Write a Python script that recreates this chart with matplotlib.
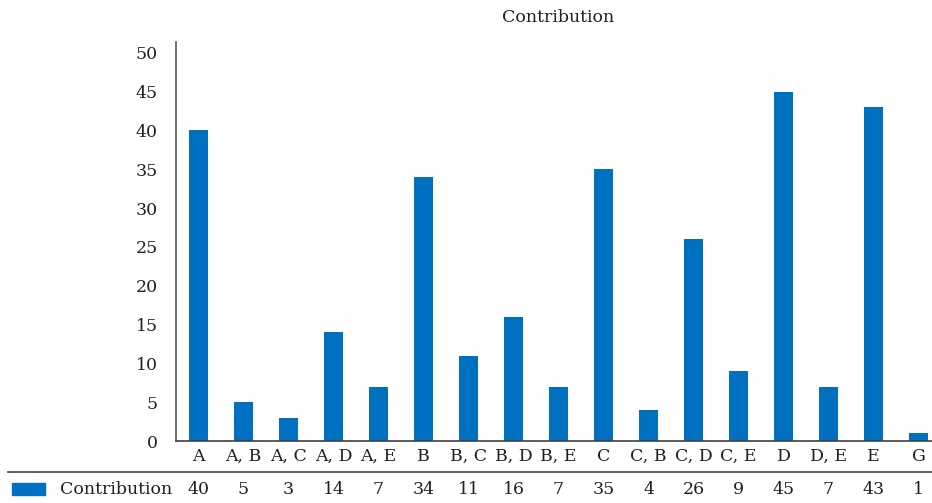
import matplotlib.pyplot as plt
import numpy as np

plt.rcParams['font.family'] = ['DejaVu Serif']

categories = ['A', 'A, B', 'A, C', 'A, D', 'A, E', 'B', 'B, C', 'B, D', 'B, E',
              'C', 'C, B', 'C, D', 'C, E', 'D', 'D, E', 'E', 'G']
contribution = [40, 5, 3, 14, 7, 34, 11, 16, 7, 35, 4, 26, 9, 45, 7, 43, 1]

bar_color = '#0070C0'
text_color = '#231F20'
fs = 12.5

fig = plt.figure(figsize=(9.32, 5.03), dpi=100)
W, H = 932, 503
# axes placed in pixel terms, right edge runs past the figure like the source
ax = fig.add_axes([176 / W, (H - 441) / H, 765 / W, (441 - 42) / H])

x = np.arange(len(categories))
ax.bar(x, contribution, width=0.44, color=bar_color, zorder=2)

ax.set_xlim(-0.5, len(categories) - 0.5)
ax.set_ylim(0, 51.4)
ax.set_yticks(range(0, 51, 5))
ax.tick_params(axis='y', length=0, pad=13, labelsize=fs, labelcolor=text_color)
ax.set_xticks(x)
ax.set_xticklabels(categories)
ax.tick_params(axis='x', length=0, pad=5, labelsize=fs, labelcolor=text_color)

for s in ['top', 'right']:
    ax.spines[s].set_visible(False)
ax.spines['left'].set_color('#595959')
ax.spines['left'].set_linewidth(1.2)
ax.spines['bottom'].set_color('#404040')
ax.spines['bottom'].set_linewidth(1.2)

fig.text(558 / W, 1 - 18 / H, 'Contribution', ha='center', va='center',
         fontsize=fs, color=text_color)

# data table row under the chart
fig.add_artist(plt.Line2D([8 / W, 1.0], [1 - 472 / H, 1 - 472 / H],
                          color='#404040', lw=1.2))
fig.add_artist(plt.Rectangle((12 / W, 1 - 495 / H), 33 / W, 12 / H,
                             color=bar_color, transform=fig.transFigure))
fig.text(60 / W, 1 - 489 / H, 'Contribution', ha='left', va='center',
         fontsize=fs, color=text_color)
for xi, v in zip(x, contribution):
    px = ax.transData.transform((xi, 0))[0]
    fig.text(px / W, 1 - 489 / H, str(v), ha='center', va='center',
             fontsize=fs, color=text_color)

fig.savefig('out.png', dpi=100)
